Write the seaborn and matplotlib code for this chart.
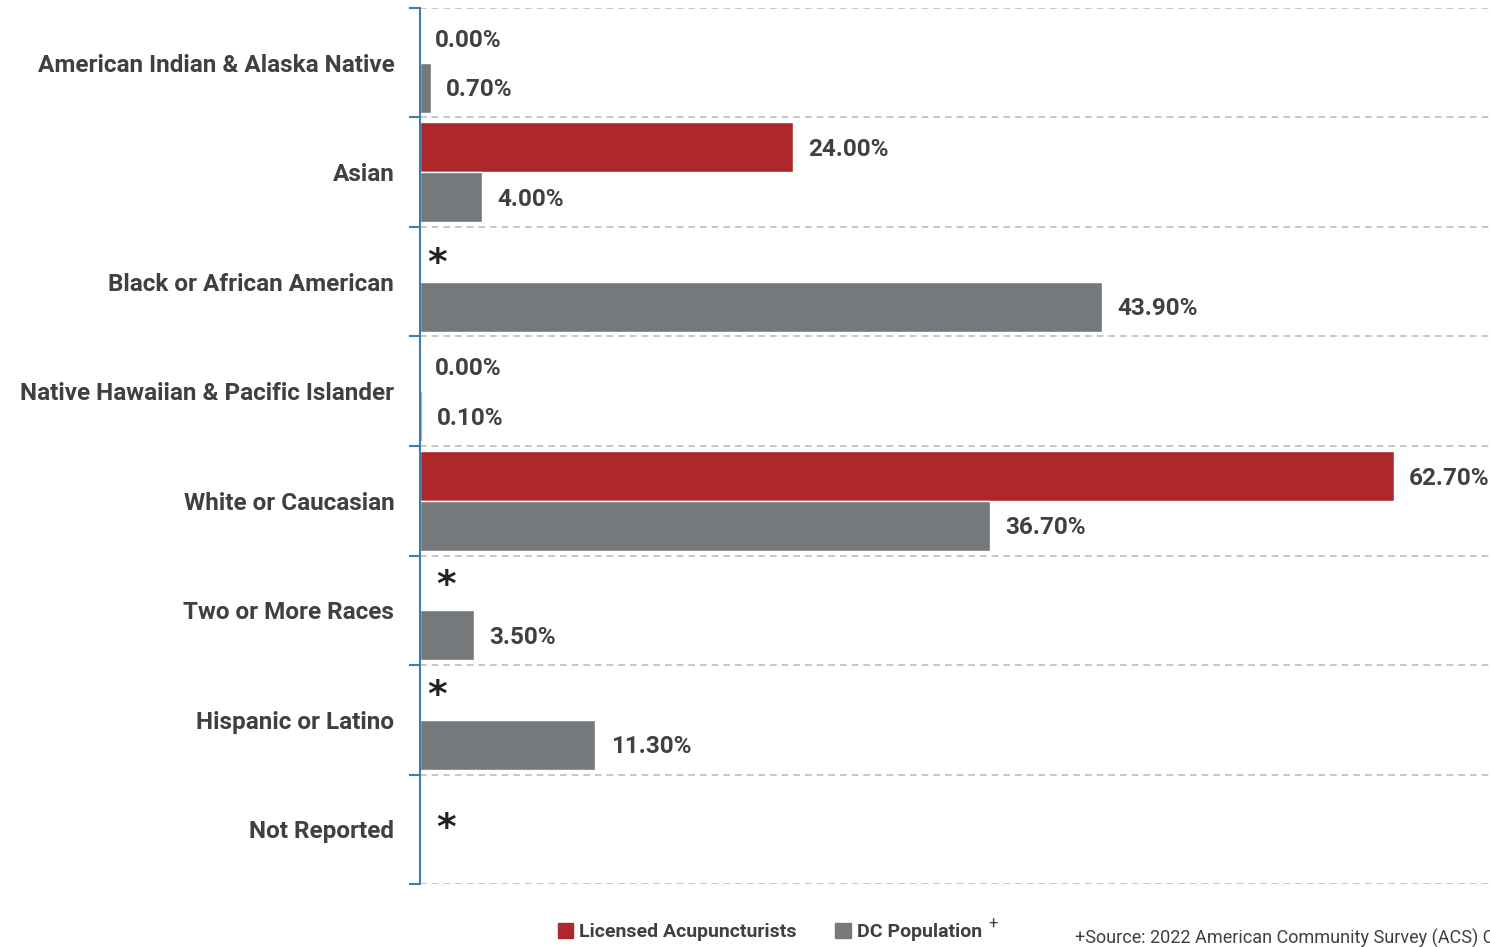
import numpy as np
import pandas as pd
import matplotlib
matplotlib.use("Agg")
import matplotlib.pyplot as plt
from matplotlib.patches import Patch
import seaborn as sns

categories = ["American Indian & Alaska Native", "Asian", "Black or African American",
              "Native Hawaiian & Pacific Islander", "White or Caucasian",
              "Two or More Races", "Hispanic or Latino", "Not Reported"]
licensed = [0.0, 24.0, np.nan, 0.0, 62.7, np.nan, np.nan, np.nan]
dc_population = [0.7, 4.0, 43.9, 0.1, 36.7, 3.5, 11.3, np.nan]
series_names = ["Licensed Acupuncturists", "DC Population"]

RED = "#AE282B"
GRAY = "#76797B"
TXT = "#404040"
SPINE = "#3F7FA6"

sns.set_theme(style="white")
plt.rcParams["font.family"] = ["Roboto", "DejaVu Sans"]

df = pd.DataFrame({
    "Category": categories * 2,
    "Series": [series_names[0]] * len(categories) + [series_names[1]] * len(categories),
    "Value": licensed + dc_population,
})

fig = plt.figure(figsize=(14.9, 9.47), dpi=100)
ax = fig.add_axes([420 / 1490, 1 - 884 / 947, 1 - 420 / 1490, (884 - 8) / 947])

sns.barplot(data=df, y="Category", x="Value", hue="Series", order=categories,
            hue_order=series_names, palette=[RED, GRAY], orient="h",
            width=0.91, saturation=1, legend=False, ax=ax, errorbar=None)

ax.set_xlim(0, 68.9)
ax.set_ylim(len(categories) - 0.5, -0.5)
ax.set_xlabel("")
ax.set_ylabel("")
ax.set_xticks([])

# category separators
for b in np.arange(-0.5, len(categories), 1.0):
    ax.axhline(b, color="#BDBDBD", linestyle=(0, (4, 3)), linewidth=1.2, zorder=0)
ax.set_yticks(np.arange(-0.5, len(categories), 1.0), minor=True)
ax.tick_params(axis="y", which="minor", length=8, width=1.5, color=SPINE, left=True)
ax.tick_params(axis="y", which="major", length=0, pad=18.5)
ax.set_yticklabels(categories, fontsize=17.5, fontweight="bold", color=TXT)

for s in ["top", "right", "bottom"]:
    ax.spines[s].set_visible(False)
ax.spines["left"].set_color(SPINE)
ax.spines["left"].set_linewidth(1.5)

# value labels
bw = 0.455
for i, cat in enumerate(categories):
    for j, vals in enumerate([licensed, dc_population]):
        v = vals[i]
        y = i - bw / 2 + j * bw + 0.02
        if not np.isnan(v):
            ax.annotate(f"{v:.2f}%", xy=(v, y), xytext=(11, 0), textcoords="offset points",
                        va="center", ha="left", fontsize=17.5, fontweight="bold", color=TXT)
# asterisks for unreported licensed values
star_pos = {2: (5, -0.16), 5: (12, -0.22), 6: (5, -0.22), 7: (12, 0.0)}
for i, (dx, dy) in star_pos.items():
    ax.annotate("*", xy=(0, i + dy), xytext=(dx, 0), textcoords="offset points",
                va="center", ha="left", fontsize=27, fontweight="bold", color="#222222",
                family="DejaVu Sans")

handles = [Patch(color=RED, label=series_names[0]), Patch(color=GRAY, label=series_names[1])]
leg = fig.legend(handles=handles, loc="center left", bbox_to_anchor=(540 / 1490, 1 - 932 / 947),
                 ncol=2, frameon=False, handlelength=0.8, handleheight=0.8, handletextpad=0.3,
                 columnspacing=2.0, prop={"size": 14, "weight": "bold"})
for t in leg.get_texts():
    t.set_color(TXT)
fig.text(988 / 1490, 1 - 924 / 947, "+", fontsize=12, color=TXT, ha="left", va="center")
fig.text(1075 / 1490, 1 - 938 / 947, "+Source: 2022 American Community Survey (ACS) Census Data",
         fontsize=13, color=TXT, ha="left", va="center")

fig.savefig("out.png", dpi=100)
